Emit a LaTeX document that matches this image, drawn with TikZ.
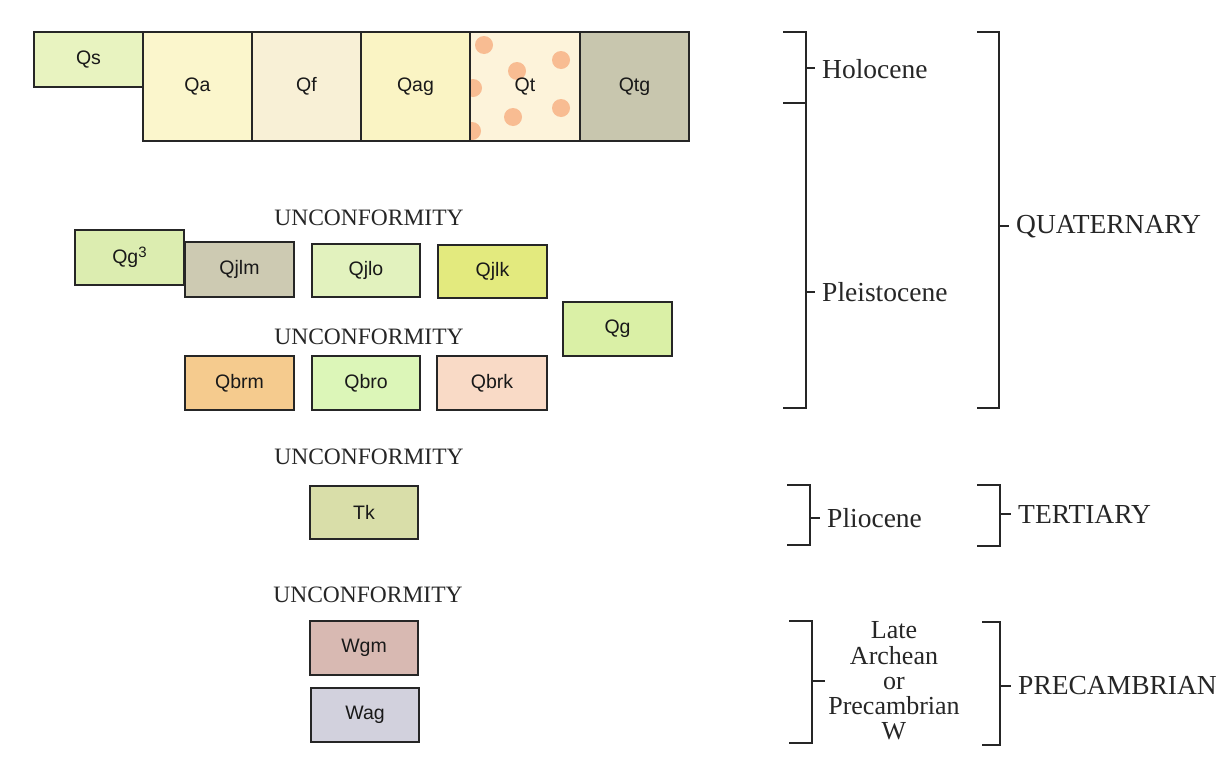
\documentclass[tikz,border=0pt]{standalone}
\usepackage{fontspec}
\setmainfont{Liberation Serif}
\newfontfamily\boxfont{Liberation Sans}
\begin{document}
\begin{tikzpicture}[x=1pt,y=-1pt,
  unitbox/.style={draw=black!85,line width=1.3pt,inner sep=0pt,rectangle,
    font=\boxfont\fontsize{19.5}{21}\selectfont,text=black!90},
  uncf/.style={font=\fontsize{23.5}{26}\selectfont,text=black!85},
  era/.style={font=\fontsize{27.5}{29}\selectfont,text=black!85,anchor=west,inner xsep=7pt,inner ysep=2pt},
  brk/.style={line width=1.3pt,draw=black!85},
]
\useasboundingbox (0,0) rectangle (1225,766);
\definecolor{cQs}{HTML}{E8F3C0}
\definecolor{cQa}{HTML}{FBF6CC}
\definecolor{cQf}{HTML}{F8F0D6}
\definecolor{cQag}{HTML}{FAF4C4}
\definecolor{cQt}{HTML}{FDF3DA}
\definecolor{cDot}{HTML}{F8BC92}
\definecolor{cQtg}{HTML}{C8C6AE}
\definecolor{cQgt}{HTML}{DCEDB0}
\definecolor{cQjlm}{HTML}{CDCAB2}
\definecolor{cQjlo}{HTML}{E2F2BE}
\definecolor{cQjlk}{HTML}{E3EA7E}
\definecolor{cQg}{HTML}{DAF0A6}
\definecolor{cQbrm}{HTML}{F5CB8E}
\definecolor{cQbro}{HTML}{DCF6B8}
\definecolor{cQbrk}{HTML}{F9DAC6}
\definecolor{cTk}{HTML}{D9DEA9}
\definecolor{cWgm}{HTML}{D8B9B2}
\definecolor{cWag}{HTML}{D2D1DD}

% top row
\node[unitbox,fill=cQs,minimum width=109pt,minimum height=55pt] (Qs) at (88.5,59.5) {Qs};
\node[unitbox,fill=cQa,minimum width=109pt,minimum height=109pt] (Qa) at (197.5,86.5) {Qa};
\node[unitbox,fill=cQf,minimum width=109pt,minimum height=109pt] (Qf) at (306.5,86.5) {Qf};
\node[unitbox,fill=cQag,minimum width=109pt,minimum height=109pt] (Qag) at (415.5,86.5) {Qag};
\node[unitbox,fill=cQt,minimum width=110pt,minimum height=109pt] (Qtbg) at (525,86.5) {};
\begin{scope}
  \clip (470,32) rectangle (580,141);
  \foreach \p in {(484,45),(561,60),(517,71),(473,88),(561,108),(513,117),(472,131)}
    \fill[cDot] \p circle (9);
\end{scope}
\node[unitbox,minimum width=110pt,minimum height=109pt] (Qt) at (525,86.5) {Qt};
\node[unitbox,fill=cQtg,minimum width=109pt,minimum height=109pt] (Qtg) at (634.5,86.5) {Qtg};

% middle units
\node[uncf] (u1) at (369,218) {UNCONFORMITY};
\node[unitbox,fill=cQjlm,minimum width=109pt,minimum height=55pt] (Qjlm) at (239.5,269.5) {Qjlm};
\node[unitbox,fill=cQgt,minimum width=109pt,minimum height=55pt] (Qg3) at (129.5,257.5) {Qg\raisebox{6pt}{\fontsize{15}{15}\selectfont 3}};
\node[unitbox,fill=cQjlo,minimum width=108pt,minimum height=53pt] (Qjlo) at (366,270.5) {Qjlo};
\node[unitbox,fill=cQjlk,minimum width=109pt,minimum height=53pt] (Qjlk) at (492.5,271.5) {Qjlk};
\node[unitbox,fill=cQg,minimum width=109pt,minimum height=54pt] (Qg) at (617.5,329) {Qg};
\node[uncf] (u2) at (369,337) {UNCONFORMITY};
\node[unitbox,fill=cQbrm,minimum width=109pt,minimum height=54pt] (Qbrm) at (239.5,383) {Qbrm};
\node[unitbox,fill=cQbro,minimum width=108pt,minimum height=54pt] (Qbro) at (366,383) {Qbro};
\node[unitbox,fill=cQbrk,minimum width=110pt,minimum height=54pt] (Qbrk) at (492,383) {Qbrk};

\node[uncf] (u3) at (369,457) {UNCONFORMITY};
\node[unitbox,fill=cTk,minimum width=108pt,minimum height=53pt] (Tk) at (364,512.5) {Tk};
\node[uncf] (u4) at (368,595) {UNCONFORMITY};
\node[unitbox,fill=cWgm,minimum width=108pt,minimum height=54pt] (Wgm) at (364,648) {Wgm};
\node[unitbox,fill=cWag,minimum width=108pt,minimum height=54pt] (Wag) at (365,715) {Wag};

% brackets: epochs
\draw[brk] (783,32) -- (806,32) -- (806,408) -- (783,408);
\draw[brk] (783,103) -- (806,103);
\coordinate (hb) at (806,68);
\coordinate (pb) at (806,292);
\node[era] (hol) at (815,69) {Holocene};
\node[era] (ple) at (815,292) {Pleistocene};
\draw[brk] (hb) -- (hol.west |- hb);
\draw[brk] (pb) -- (ple.west |- pb);

\draw[brk] (977,32) -- (999,32) -- (999,408) -- (977,408);
\coordinate (qb) at (999,226);
\node[era] (qua) at (1009,227) {QUATERNARY};
\draw[brk] (qb) -- (qua.west |- qb);

\draw[brk] (787,485) -- (810,485) -- (810,545) -- (787,545);
\coordinate (plb) at (810,518);
\node[era] (pli) at (820,518) {Pliocene};
\draw[brk] (plb) -- (pli.west |- plb);

\draw[brk] (977,485) -- (1000,485) -- (1000,546) -- (977,546);
\coordinate (tb) at (1000,514);
\node[era] (ter) at (1011,514) {TERTIARY};
\draw[brk] (tb) -- (ter.west |- tb);

\draw[brk] (789,621) -- (812,621) -- (812,743) -- (789,743);
\coordinate (lb) at (812,681);
\node[font=\fontsize{26}{25.3}\selectfont,text=black!85,align=center,inner sep=0pt] (lat) at (894,681)
  {Late\\Archean\\or\\Precambrian\\W};
\coordinate (lt) at (825,681);
\draw[brk] (lb) -- (lt);

\draw[brk] (982,622) -- (1000,622) -- (1000,745) -- (982,745);
\coordinate (prb) at (1000,686);
\node[era] (pre) at (1011,686) {PRECAMBRIAN};
\draw[brk] (prb) -- (pre.west |- prb);
\end{tikzpicture}
\end{document}
